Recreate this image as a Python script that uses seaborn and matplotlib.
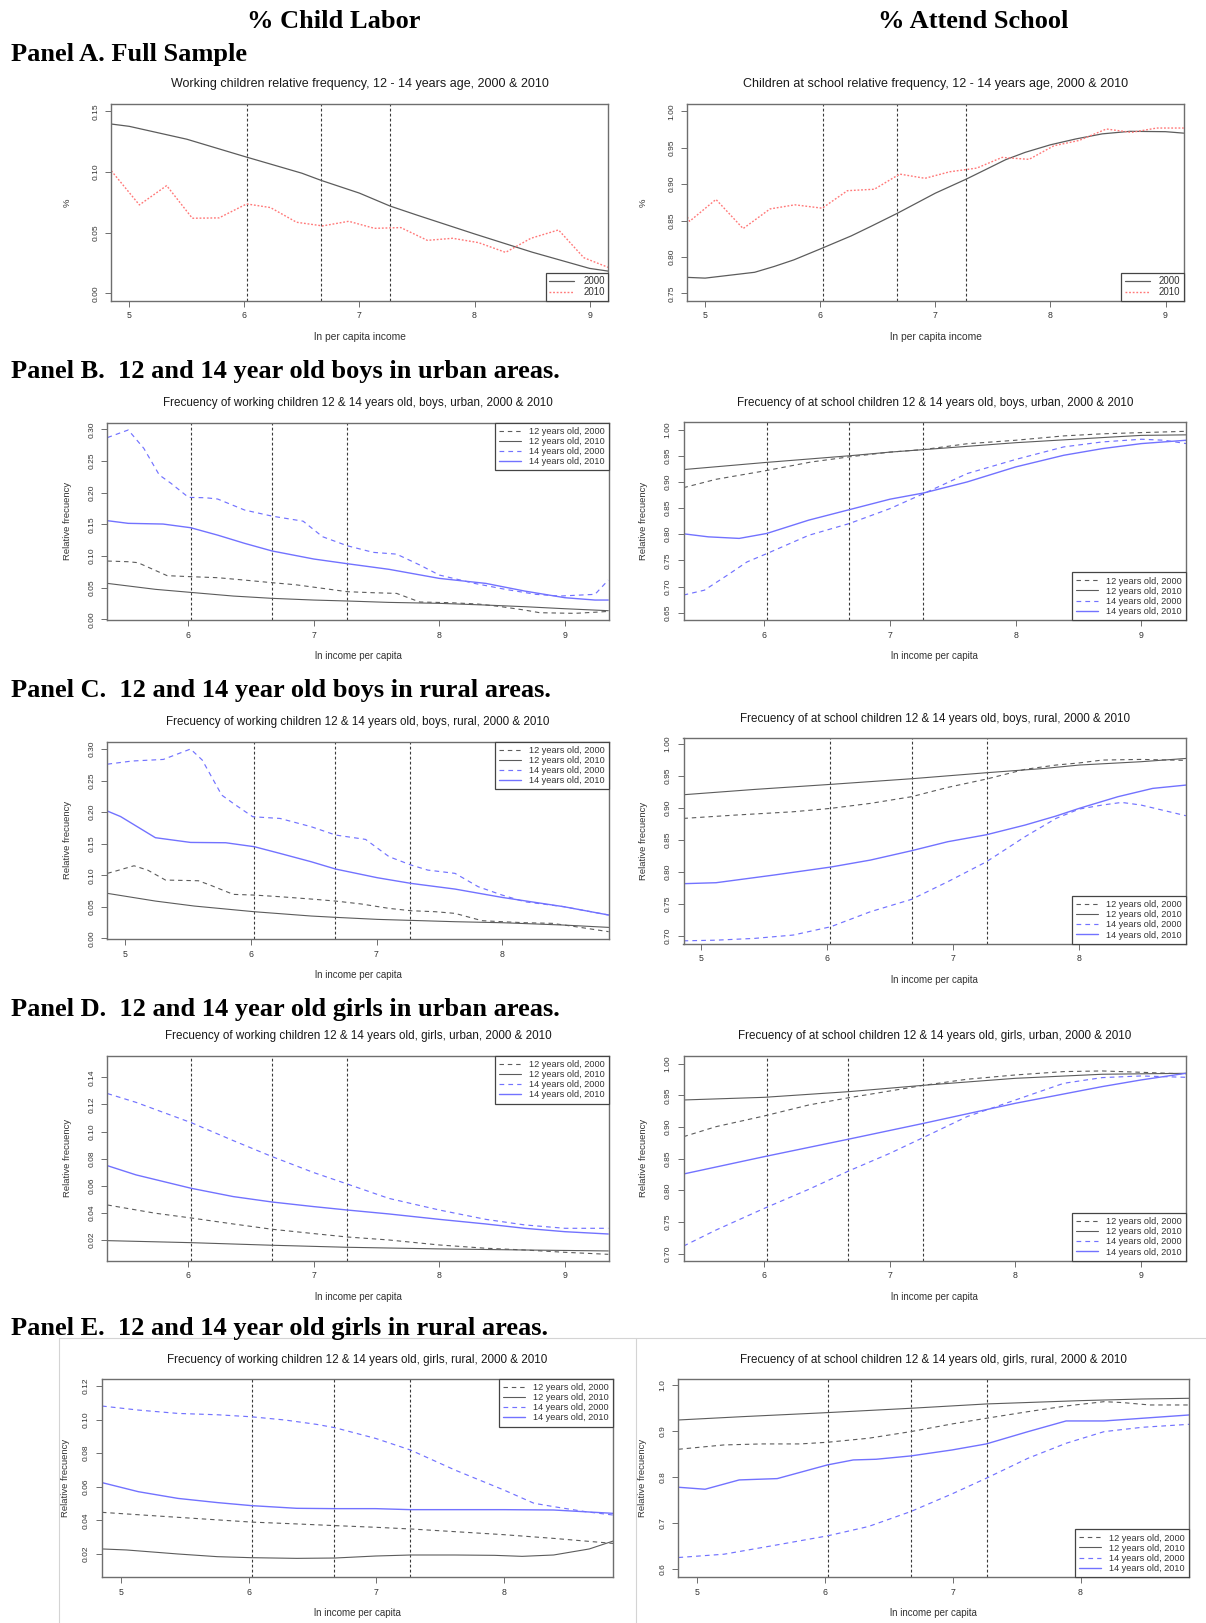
import numpy as np
import pandas as pd
import matplotlib
matplotlib.use("Agg")
import matplotlib.pyplot as plt
import seaborn as sns
from matplotlib.lines import Line2D
from matplotlib.ticker import FixedLocator, FixedFormatter

# ---------------- DATA ----------------
cutoffs = [6.025, 6.67, 7.265]

# Panel A - full sample, child labor
a_w_2000_x = [4.844, 5.0, 5.5, 6.0, 6.5, 6.67, 7.0, 7.265, 7.5, 8.0, 8.5, 9.0, 9.16]
a_w_2000_y = [0.1395, 0.1376, 0.127, 0.1128, 0.099, 0.093, 0.0826, 0.072, 0.0645, 0.049, 0.034, 0.0206, 0.0184]
a_w_2010_x = [4.844, 5.088, 5.325, 5.548, 5.78, 6.02, 6.227, 6.454, 6.68, 6.907, 7.13, 7.36, 7.59, 7.81, 8.036, 8.27, 8.49, 8.73, 8.95, 9.16]
a_w_2010_y = [0.101, 0.0729, 0.0888, 0.0619, 0.0622, 0.0737, 0.0707, 0.0586, 0.0556, 0.0594, 0.0536, 0.0542, 0.0437, 0.0454, 0.0418, 0.0338, 0.0454, 0.0523, 0.0294, 0.0215]
# Panel A - full sample, school attendance
a_s_2000_x = [4.845, 5.0, 5.43, 5.6, 5.77, 6.0, 6.27, 6.44, 6.67, 7.0, 7.27, 7.445, 7.61, 7.78, 8.0, 8.22, 8.45, 8.69, 9.0, 9.158]
a_s_2000_y = [0.772, 0.771, 0.779, 0.787, 0.796, 0.811, 0.829, 0.842, 0.860, 0.8876, 0.907, 0.9206, 0.9335, 0.9436, 0.954, 0.962, 0.969, 0.9725, 0.972, 0.970]
a_s_2010_x = [4.845, 4.865, 5.094, 5.33, 5.564, 5.78, 6.017, 6.236, 6.47, 6.69, 6.91, 7.126, 7.36, 7.58, 7.814, 8.03, 8.25, 8.486, 8.704, 8.923, 9.158]
a_s_2010_y = [0.855, 0.849, 0.879, 0.839, 0.866, 0.8716, 0.867, 0.891, 0.893, 0.9138, 0.908, 0.917, 0.922, 0.9367, 0.934, 0.9527, 0.96, 0.9757, 0.971, 0.977, 0.977]

# Panel B - boys urban, working
b_w_12_2000_x = [5.357, 5.523, 5.6, 5.833, 6.02, 6.235, 6.45, 6.668, 6.854, 7.07, 7.266, 7.47, 7.66, 7.845, 8.09, 8.31, 8.495, 8.68, 8.8, 9.08, 9.27, 9.346]
b_w_12_2000_y = [0.0921, 0.091, 0.0895, 0.069, 0.0674, 0.0658, 0.062, 0.0579, 0.0547, 0.049, 0.0437, 0.0421, 0.041, 0.0274, 0.0263, 0.0242, 0.020, 0.0147, 0.0105, 0.0095, 0.0116, 0.0126]
b_w_12_2010_x = [5.357, 5.74, 6.02, 6.36, 6.668, 7.0, 7.266, 7.597, 8.0, 8.37, 8.68, 9.0, 9.346]
b_w_12_2010_y = [0.0568, 0.0474, 0.0426, 0.0368, 0.0332, 0.0305, 0.029, 0.0268, 0.0253, 0.0226, 0.020, 0.0168, 0.0137]
b_w_14_2000_x = [5.357, 5.523, 5.647, 5.77, 5.864, 6.003, 6.14, 6.235, 6.45, 6.668, 6.916, 7.07, 7.266, 7.473, 7.66, 7.845, 8.0, 8.28, 8.526, 8.77, 8.96, 9.24, 9.346]
b_w_14_2000_y = [0.287, 0.299, 0.270, 0.228, 0.2147, 0.1926, 0.192, 0.190, 0.1726, 0.163, 0.155, 0.1305, 0.1163, 0.1058, 0.103, 0.0858, 0.070, 0.0568, 0.0474, 0.0395, 0.0368, 0.0395, 0.062]
b_w_14_2010_x = [5.357, 5.523, 5.8, 6.02, 6.235, 6.45, 6.668, 7.0, 7.266, 7.6, 8.0, 8.37, 8.68, 9.0, 9.24, 9.346]
b_w_14_2010_y = [0.1558, 0.1516, 0.1505, 0.1447, 0.133, 0.120, 0.108, 0.0953, 0.0879, 0.079, 0.0647, 0.0568, 0.0447, 0.0342, 0.0305, 0.0305]
# Panel B - boys urban, school
b_s_12_2000_x = [5.357, 5.616, 6.0, 6.37, 6.677, 7.0, 7.27, 7.613, 8.0, 8.383, 8.69, 9.0, 9.357]
b_s_12_2000_y = [0.889, 0.905, 0.921, 0.938, 0.948, 0.957, 0.962, 0.973, 0.9797, 0.988, 0.992, 0.9943, 0.9968]
b_s_12_2010_x = [5.357, 6.0, 6.677, 7.0, 7.27, 8.0, 8.69, 9.0, 9.357]
b_s_12_2010_y = [0.9236, 0.937, 0.950, 0.957, 0.9618, 0.975, 0.9848, 0.989, 0.990]
b_s_14_2000_x = [5.357, 5.523, 5.708, 5.862, 6.02, 6.354, 6.677, 7.0, 7.27, 7.614, 8.0, 8.383, 8.69, 9.0, 9.18, 9.357]
b_s_14_2000_y = [0.6837, 0.693, 0.722, 0.747, 0.763, 0.798, 0.8205, 0.849, 0.878, 0.916, 0.943, 0.967, 0.9765, 0.9816, 0.9797, 0.9733]
b_s_14_2010_x = [5.357, 5.554, 5.8, 6.02, 6.354, 6.677, 7.0, 7.27, 7.614, 8.0, 8.383, 8.69, 9.0, 9.357]
b_s_14_2010_y = [0.8008, 0.795, 0.792, 0.8015, 0.827, 0.847, 0.867, 0.879, 0.900, 0.9287, 0.951, 0.9637, 0.9733, 0.9797]

# Panel C - boys rural, working
c_w_12_2000_x = [4.858, 4.93, 5.07, 5.18, 5.32, 5.582, 5.675, 5.86, 6.028, 6.232, 6.48, 6.675, 6.882, 7.1, 7.275, 7.47, 7.625, 7.84, 8.0, 8.18, 8.4, 8.585, 8.848]
c_w_12_2000_y = [0.103, 0.107, 0.115, 0.108, 0.0924, 0.0913, 0.0845, 0.0697, 0.0686, 0.066, 0.0623, 0.0591, 0.0544, 0.0475, 0.0438, 0.0422, 0.0396, 0.028, 0.0264, 0.0248, 0.0238, 0.0185, 0.0106]
c_w_12_2010_x = [4.858, 5.24, 5.55, 6.028, 6.48, 6.675, 7.006, 7.275, 7.625, 8.0, 8.49, 8.848]
c_w_12_2010_y = [0.0713, 0.0591, 0.0512, 0.0422, 0.0354, 0.0333, 0.0301, 0.0285, 0.0264, 0.0248, 0.0211, 0.0174]
c_w_14_2000_x = [4.858, 5.055, 5.303, 5.52, 5.613, 5.768, 5.86, 6.015, 6.232, 6.48, 6.675, 6.913, 7.1, 7.275, 7.408, 7.625, 7.81, 8.0, 8.18, 8.49, 8.848]
c_w_14_2000_y = [0.276, 0.281, 0.2835, 0.300, 0.2825, 0.227, 0.2138, 0.1927, 0.190, 0.1769, 0.1637, 0.1568, 0.1294, 0.1162, 0.1082, 0.103, 0.0818, 0.0686, 0.058, 0.0502, 0.037]
c_w_14_2010_x = [4.858, 4.963, 5.24, 5.52, 5.8, 6.028, 6.232, 6.48, 6.675, 7.006, 7.275, 7.625, 8.0, 8.49, 8.848]
c_w_14_2010_y = [0.2017, 0.193, 0.1595, 0.152, 0.1515, 0.1452, 0.1346, 0.1214, 0.1098, 0.0961, 0.0871, 0.0781, 0.0649, 0.0502, 0.037]
# Panel C - boys rural, school
c_s_12_2000_x = [4.859, 5.27, 5.73, 6.028, 6.343, 6.669, 6.957, 7.264, 7.57, 7.816, 8.0, 8.184, 8.49, 8.847]
c_s_12_2000_y = [0.8833, 0.8885, 0.8937, 0.899, 0.9068, 0.9172, 0.9318, 0.9448, 0.960, 0.9667, 0.970, 0.9745, 0.9755, 0.974]
c_s_12_2010_x = [4.859, 5.423, 6.028, 6.669, 7.264, 7.724, 8.0, 8.49, 8.847]
c_s_12_2010_y = [0.9203, 0.9286, 0.9365, 0.9453, 0.9547, 0.9614, 0.9667, 0.9719, 0.977]
c_s_14_2000_x = [4.859, 5.117, 5.423, 5.73, 6.028, 6.343, 6.669, 6.957, 7.264, 7.57, 7.816, 8.0, 8.184, 8.337, 8.49, 8.847]
c_s_14_2000_y = [0.692, 0.693, 0.6958, 0.701, 0.714, 0.7375, 0.7568, 0.7844, 0.8156, 0.8547, 0.8833, 0.8979, 0.9042, 0.9083, 0.9042, 0.8875]
c_s_14_2010_x = [4.859, 5.117, 5.577, 6.028, 6.343, 6.669, 6.957, 7.264, 7.57, 7.816, 8.0, 8.307, 8.583, 8.847]
c_s_14_2010_y = [0.7813, 0.7828, 0.7948, 0.8073, 0.8182, 0.8328, 0.8469, 0.8578, 0.8729, 0.887, 0.899, 0.9172, 0.9302, 0.9354]

# Panel D - girls urban, working
d_w_12_2000_x = [5.357, 5.74, 6.025, 6.359, 6.668, 7.0, 7.266, 7.597, 8.0, 8.37, 8.68, 9.0, 9.346]
d_w_12_2000_y = [0.0458, 0.0397, 0.0362, 0.0318, 0.0279, 0.0247, 0.0222, 0.020, 0.0163, 0.0139, 0.0126, 0.0109, 0.0094]
d_w_12_2010_x = [5.357, 6.025, 6.668, 7.266, 8.0, 8.68, 9.346]
d_w_12_2010_y = [0.0195, 0.018, 0.0161, 0.0146, 0.0134, 0.0126, 0.0119]
d_w_14_2000_x = [5.357, 5.585, 6.025, 6.359, 6.668, 7.0, 7.266, 7.597, 8.0, 8.37, 8.68, 9.0, 9.346]
d_w_14_2000_y = [0.128, 0.1215, 0.1065, 0.0933, 0.0815, 0.0697, 0.0613, 0.0507, 0.0421, 0.0352, 0.0311, 0.0286, 0.0286]
d_w_14_2010_x = [5.357, 5.585, 6.025, 6.359, 6.668, 7.0, 7.266, 7.597, 8.0, 8.37, 8.68, 9.0, 9.346]
d_w_14_2010_y = [0.0748, 0.068, 0.0581, 0.052, 0.048, 0.0446, 0.0421, 0.0392, 0.0352, 0.0318, 0.0286, 0.0261, 0.0244]
# Panel D - girls urban, school
d_s_12_2000_x = [5.357, 5.616, 6.0, 6.354, 6.677, 7.0, 7.27, 7.614, 8.0, 8.384, 8.69, 9.0, 9.357]
d_s_12_2000_y = [0.8847, 0.9005, 0.9174, 0.9347, 0.9463, 0.9568, 0.9658, 0.9753, 0.9821, 0.9874, 0.9884, 0.9863, 0.9837]
d_s_12_2010_x = [5.357, 6.0, 6.677, 7.27, 8.0, 8.69, 9.357]
d_s_12_2010_y = [0.9426, 0.9468, 0.9558, 0.9658, 0.9768, 0.9832, 0.9847]
d_s_14_2000_x = [5.357, 5.616, 6.0, 6.354, 6.677, 7.0, 7.27, 7.614, 8.0, 8.384, 8.69, 9.0, 9.357]
d_s_14_2000_y = [0.7121, 0.7374, 0.7716, 0.8016, 0.831, 0.8584, 0.8837, 0.9163, 0.9426, 0.9689, 0.9779, 0.9805, 0.9784]
d_s_14_2010_x = [5.357, 6.0, 6.677, 7.27, 8.0, 8.69, 9.0, 9.357]
d_s_14_2010_y = [0.8258, 0.8532, 0.881, 0.9058, 0.9374, 0.9637, 0.9742, 0.9847]

# Panel E - girls rural, working
e_w_12_2000_x = [4.848, 5.289, 6.02, 6.375, 6.675, 6.995, 7.268, 7.616, 8.0, 8.39, 8.857]
e_w_12_2000_y = [0.0448, 0.0426, 0.039, 0.0379, 0.0369, 0.0359, 0.0349, 0.0333, 0.0315, 0.0293, 0.0263]
e_w_12_2010_x = [4.848, 5.04, 5.444, 5.754, 6.02, 6.375, 6.675, 6.995, 7.268, 7.616, 7.927, 8.143, 8.39, 8.67, 8.857]
e_w_12_2010_y = [0.023, 0.0224, 0.020, 0.0184, 0.0178, 0.0174, 0.0176, 0.0188, 0.0194, 0.0194, 0.0192, 0.0186, 0.0194, 0.023, 0.0277]
e_w_14_2000_x = [4.848, 5.133, 5.444, 5.754, 6.02, 6.281, 6.53, 6.675, 6.995, 7.268, 7.616, 8.0, 8.236, 8.39, 8.64, 8.857]
e_w_14_2000_y = [0.1081, 0.1057, 0.1037, 0.1029, 0.1017, 0.0998, 0.0972, 0.0952, 0.0888, 0.0819, 0.070, 0.0581, 0.0502, 0.0482, 0.0452, 0.0432]
e_w_14_2010_x = [4.848, 5.133, 5.444, 5.754, 6.02, 6.375, 6.675, 6.995, 7.268, 8.0, 8.39, 8.857]
e_w_14_2010_y = [0.0625, 0.0571, 0.0531, 0.0506, 0.0488, 0.0472, 0.047, 0.047, 0.0464, 0.0464, 0.0462, 0.0442]
# Panel E - girls rural, school
e_s_12_2000_x = [4.851, 5.208, 5.506, 5.804, 6.018, 6.339, 6.67, 6.994, 7.262, 7.589, 7.887, 8.185, 8.333, 8.542, 8.851]
e_s_12_2000_y = [0.8604, 0.8698, 0.872, 0.872, 0.8756, 0.8843, 0.8987, 0.9154, 0.9277, 0.9421, 0.9544, 0.9638, 0.9617, 0.9566, 0.9566]
e_s_12_2010_x = [4.851, 5.357, 6.018, 6.67, 7.262, 8.0, 8.482, 8.851]
e_s_12_2010_y = [0.924, 0.9313, 0.94, 0.9494, 0.9588, 0.966, 0.9696, 0.9711]
e_s_14_2000_x = [4.851, 5.208, 5.625, 6.018, 6.339, 6.67, 6.994, 7.262, 7.589, 7.887, 8.185, 8.482, 8.851]
e_s_14_2000_y = [0.6253, 0.6325, 0.6528, 0.6723, 0.6926, 0.7251, 0.7635, 0.7975, 0.8409, 0.8734, 0.8987, 0.9081, 0.9146]
e_s_14_2010_x = [4.851, 5.06, 5.327, 5.625, 6.018, 6.22, 6.399, 6.67, 6.994, 7.262, 7.589, 7.887, 8.185, 8.482, 8.851]
e_s_14_2010_y = [0.7779, 0.7736, 0.7938, 0.7967, 0.8264, 0.8372, 0.8387, 0.8459, 0.8589, 0.872, 0.8987, 0.9219, 0.9219, 0.9277, 0.9349]

series_labels4 = ["12 years old, 2000", "12 years old, 2010", "14 years old, 2000", "14 years old, 2010"]
series_labels2 = ["2000", "2010"]

titles = {
    "Aw": "Working children relative frequency, 12 - 14 years age, 2000 & 2010",
    "As": "Children at school relative frequency, 12 - 14 years age, 2000 & 2010",
    "Bw": "Frecuency of working children 12 & 14 years old, boys, urban, 2000 & 2010",
    "Bs": "Frecuency of at school children 12 & 14 years old, boys, urban, 2000 & 2010",
    "Cw": "Frecuency of working children 12 & 14 years old, boys, rural, 2000 & 2010",
    "Cs": "Frecuency of at school children 12 & 14 years old, boys, rural, 2000 & 2010",
    "Dw": "Frecuency of working children 12 & 14 years old, girls, urban, 2000 & 2010",
    "Ds": "Frecuency of at school children 12 & 14 years old, girls, urban, 2000 & 2010",
    "Ew": "Frecuency of working children 12 & 14 years old, girls, rural, 2000 & 2010",
    "Es": "Frecuency of at school children 12 & 14 years old, girls, rural, 2000 & 2010",
}
panel_headers = [
    "Panel A. Full Sample",
    "Panel B.  12 and 14 year old boys in urban areas.",
    "Panel C.  12 and 14 year old boys in rural areas.",
    "Panel D.  12 and 14 year old girls in urban areas.",
    "Panel E.  12 and 14 year old girls in rural areas.",
]
col_headers = ["% Child Labor", "% Attend School"]

# ---------------- STYLE / LAYOUT ----------------
W, H = 1206, 1623
sns.set_theme(style="white")
plt.rcParams['font.family'] = ['Liberation Sans', 'DejaVu Sans']

GRAY = '#5c5c5c'
BLUE = '#7272ff'
RED = '#ff7878'
DASH = (0, (4, 3.5))
styles4 = [(GRAY, DASH, 0.8), (GRAY, '-', 0.8), (BLUE, DASH, 0.85), (BLUE, '-', 1.0)]
styles2 = [(GRAY, '-', 0.9), (RED, (0, (1.3, 1.3)), 1.0)]

fig = plt.figure(figsize=(W / 100, H / 100), dpi=100)
fig.patch.set_facecolor('white')


def fx(x):
    return x / W


def fy(y):
    return 1 - y / H


def make_axes(x0, y0, x1, y1):
    return fig.add_axes([fx(x0), fy(y1), (x1 - x0) / W, (y1 - y0) / H])


panels = [
    # key, box(px), xlim, ylim, xticks, yticks, ydec, xlabel, ylabel, series, legend loc
    ("Aw", (111.3, 104, 608, 300.7), (4.844, 9.16), (-0.006, 0.156), [5, 6, 7, 8, 9], [0.0, 0.05, 0.10, 0.15], 2,
     "ln per capita income", "%", [(a_w_2000_x, a_w_2000_y), (a_w_2010_x, a_w_2010_y)], "lower right"),
    ("As", (687.3, 104, 1183.6, 300.7), (4.845, 9.157), (0.74, 1.01), [5, 6, 7, 8, 9], [0.75, 0.80, 0.85, 0.90, 0.95, 1.00], 2,
     "ln per capita income", "%", [(a_s_2000_x, a_s_2000_y), (a_s_2010_x, a_s_2010_y)], "lower right"),
    ("Bw", (107.4, 422.7, 608.8, 620), (5.357, 9.35), (-0.001, 0.3105), [6, 7, 8, 9], [0.0, 0.05, 0.10, 0.15, 0.20, 0.25, 0.30], 2,
     "ln income per capita", "Relative frecuency",
     [(b_w_12_2000_x, b_w_12_2000_y), (b_w_12_2010_x, b_w_12_2010_y), (b_w_14_2000_x, b_w_14_2000_y), (b_w_14_2010_x, b_w_14_2010_y)], "upper right"),
    ("Bs", (683.5, 422.3, 1186.3, 620), (5.357, 9.357), (0.636, 1.014), [6, 7, 8, 9], [0.65, 0.70, 0.75, 0.80, 0.85, 0.90, 0.95, 1.00], 2,
     "ln income per capita", "Relative frecuency",
     [(b_s_12_2000_x, b_s_12_2000_y), (b_s_12_2010_x, b_s_12_2010_y), (b_s_14_2000_x, b_s_14_2000_y), (b_s_14_2010_x, b_s_14_2010_y)], "lower right"),
    ("Cw", (107.4, 741.7, 608.8, 939), (4.858, 8.849), (-0.001, 0.3116), [5, 6, 7, 8], [0.0, 0.05, 0.10, 0.15, 0.20, 0.25, 0.30], 2,
     "ln income per capita", "Relative frecuency",
     [(c_w_12_2000_x, c_w_12_2000_y), (c_w_12_2010_x, c_w_12_2010_y), (c_w_14_2000_x, c_w_14_2000_y), (c_w_14_2010_x, c_w_14_2010_y)], "upper right"),
    ("Cs", (683.5, 738.3, 1185.9, 943.7), (4.859, 8.847), (0.6875, 1.0085), [5, 6, 7, 8], [0.70, 0.75, 0.80, 0.85, 0.90, 0.95, 1.00], 2,
     "ln income per capita", "Relative frecuency",
     [(c_s_12_2000_x, c_s_12_2000_y), (c_s_12_2010_x, c_s_12_2010_y), (c_s_14_2000_x, c_s_14_2000_y), (c_s_14_2010_x, c_s_14_2010_y)], "lower right"),
    ("Dw", (107.4, 1056, 608.8, 1260.7), (5.357, 9.35), (0.0047, 0.1557), [6, 7, 8, 9], [0.02, 0.04, 0.06, 0.08, 0.10, 0.12, 0.14], 2,
     "ln income per capita", "Relative frecuency",
     [(d_w_12_2000_x, d_w_12_2000_y), (d_w_12_2010_x, d_w_12_2010_y), (d_w_14_2000_x, d_w_14_2000_y), (d_w_14_2010_x, d_w_14_2010_y)], "upper right"),
    ("Ds", (683.5, 1056, 1185.9, 1260.7), (5.357, 9.357), (0.689, 1.012), [6, 7, 8, 9], [0.70, 0.75, 0.80, 0.85, 0.90, 0.95, 1.00], 2,
     "ln income per capita", "Relative frecuency",
     [(d_s_12_2000_x, d_s_12_2000_y), (d_s_12_2010_x, d_s_12_2010_y), (d_s_14_2000_x, d_s_14_2000_y), (d_s_14_2010_x, d_s_14_2010_y)], "lower right"),
    ("Ew", (102, 1379, 613, 1577), (4.848, 8.856), (0.0063, 0.1242), [5, 6, 7, 8], [0.02, 0.04, 0.06, 0.08, 0.10, 0.12], 2,
     "ln income per capita", "Relative frecuency",
     [(e_w_12_2000_x, e_w_12_2000_y), (e_w_12_2010_x, e_w_12_2010_y), (e_w_14_2000_x, e_w_14_2000_y), (e_w_14_2010_x, e_w_14_2010_y)], "upper right"),
    ("Es", (678.4, 1379, 1189.2, 1577), (4.851, 8.851), (0.583, 1.013), [5, 6, 7, 8], [0.6, 0.7, 0.8, 0.9, 1.0], 1,
     "ln income per capita", "Relative frecuency",
     [(e_s_12_2000_x, e_s_12_2000_y), (e_s_12_2010_x, e_s_12_2010_y), (e_s_14_2000_x, e_s_14_2000_y), (e_s_14_2010_x, e_s_14_2010_y)], "lower right"),
]

FRAME = '#6e6e6e'
TXT = '#333333'

for key, box, xlim, ylim, xt, yt, ydec, xlab, ylab, series, legloc in panels:
    x0, y0, x1, y1 = box
    ax = make_axes(x0, y0, x1, y1)
    ax.set_facecolor('white')
    two = len(series) == 2
    labels = series_labels2 if two else series_labels4
    stys = styles2 if two else styles4
    for (xs, ys), lab, (col, ls, lw) in zip(series, labels, stys):
        df = pd.DataFrame({"x": xs, "y": ys})
        sns.lineplot(data=df, x="x", y="y", ax=ax, color=col, linestyle=ls, linewidth=lw,
                     label=lab, legend=False, estimator=None, sort=False)
    for c in cutoffs:
        ax.axvline(c, color='#3a3a3a', linestyle=(0, (2.5, 2.0)), linewidth=0.8, zorder=1)
    ax.set_xlim(*xlim)
    ax.set_ylim(*ylim)
    ax.xaxis.set_major_locator(FixedLocator(xt))
    ax.xaxis.set_major_formatter(FixedFormatter([str(v) for v in xt]))
    ax.yaxis.set_major_locator(FixedLocator(yt))
    ax.yaxis.set_major_formatter(FixedFormatter([f"{v:.{ydec}f}" for v in yt]))
    ax.set_xlabel("")
    ax.set_ylabel("")
    for sp in ax.spines.values():
        sp.set_color(FRAME)
        sp.set_linewidth(1.0)
        sp.set_visible(True)
    ax.tick_params(axis='both', which='major', length=4.2, width=0.7, color=FRAME,
                   labelcolor=TXT, direction='out', bottom=True, left=True)
    ax.tick_params(axis='x', labelsize=6.3, pad=3.5)
    ax.tick_params(axis='y', labelsize=6.0, pad=4.5, labelrotation=90)
    for t in ax.get_yticklabels():
        t.set_va('center')
    # legend
    handles = [Line2D([0], [0], color=c, linestyle=ls, linewidth=lw) for (c, ls, lw) in stys]
    if two:
        leg = ax.legend(handles, labels, loc=legloc, bbox_to_anchor=(1, 0) if legloc == 'lower right' else (1, 1),
                        borderaxespad=0, fancybox=False, frameon=True, edgecolor='#444444', framealpha=1,
                        fontsize=7, handlelength=2.6, handletextpad=0.9, borderpad=0.35, labelspacing=0.1)
    else:
        leg = ax.legend(handles, labels, loc=legloc, bbox_to_anchor=(1, 0) if legloc == 'lower right' else (1, 1),
                        borderaxespad=0, fancybox=False, frameon=True, edgecolor='#444444', framealpha=1,
                        fontsize=6.6, handlelength=2.4, handletextpad=0.9, borderpad=0.45, labelspacing=0.12)
    leg.get_frame().set_linewidth(0.9)
    for t in leg.get_texts():
        t.set_color(TXT)
    # texts
    cx = (x0 + x1) / 2
    tsize = 9.0 if key in ("Aw", "As") else 8.4
    fig.text(fx(cx), fy(y0 - 19.5), titles[key], ha='center', va='center', fontsize=tsize, color='#1a1a1a')
    xsize = 7.4 if key in ("Aw", "As") else 7.0
    fig.text(fx(cx), fy(y1 + 36), xlab, ha='center', va='center', fontsize=xsize, color=TXT)
    if key in ("Aw", "As"):
        yl_off = 44
    elif key in ("Ew", "Es"):
        yl_off = 36
    else:
        yl_off = 40
    fig.text(fx(x0 - yl_off), fy((y0 + y1) / 2), ylab, ha='center', va='center', rotation=90,
             fontsize=6.8, color=TXT)

# column headers and panel headers
serif = ['Liberation Serif', 'DejaVu Serif']
fig.text(fx(333.5), fy(28.3), col_headers[0], ha='center', va='baseline', fontsize=19,
         fontweight='bold', family=serif, color='black')
fig.text(fx(973.5), fy(28.3), col_headers[1], ha='center', va='baseline', fontsize=19,
         fontweight='bold', family=serif, color='black')
for txt, yb in zip(panel_headers, [60.7, 378.0, 697.0, 1016.0, 1335.5]):
    fig.text(fx(11), fy(yb), txt, ha='left', va='baseline', fontsize=19, fontweight='bold',
             family=serif, color='black')

# screenshot frame around panel E
frame_col = '#d4d4d4'
fig.add_artist(Line2D([fx(59), fx(1206)], [fy(1338), fy(1338)], color=frame_col, lw=0.8))
fig.add_artist(Line2D([fx(59), fx(59)], [fy(1338), fy(1623)], color=frame_col, lw=0.8))
fig.add_artist(Line2D([fx(635.5), fx(635.5)], [fy(1338), fy(1623)], color=frame_col, lw=0.8))

fig.savefig("out.png", dpi=100, facecolor='white')
